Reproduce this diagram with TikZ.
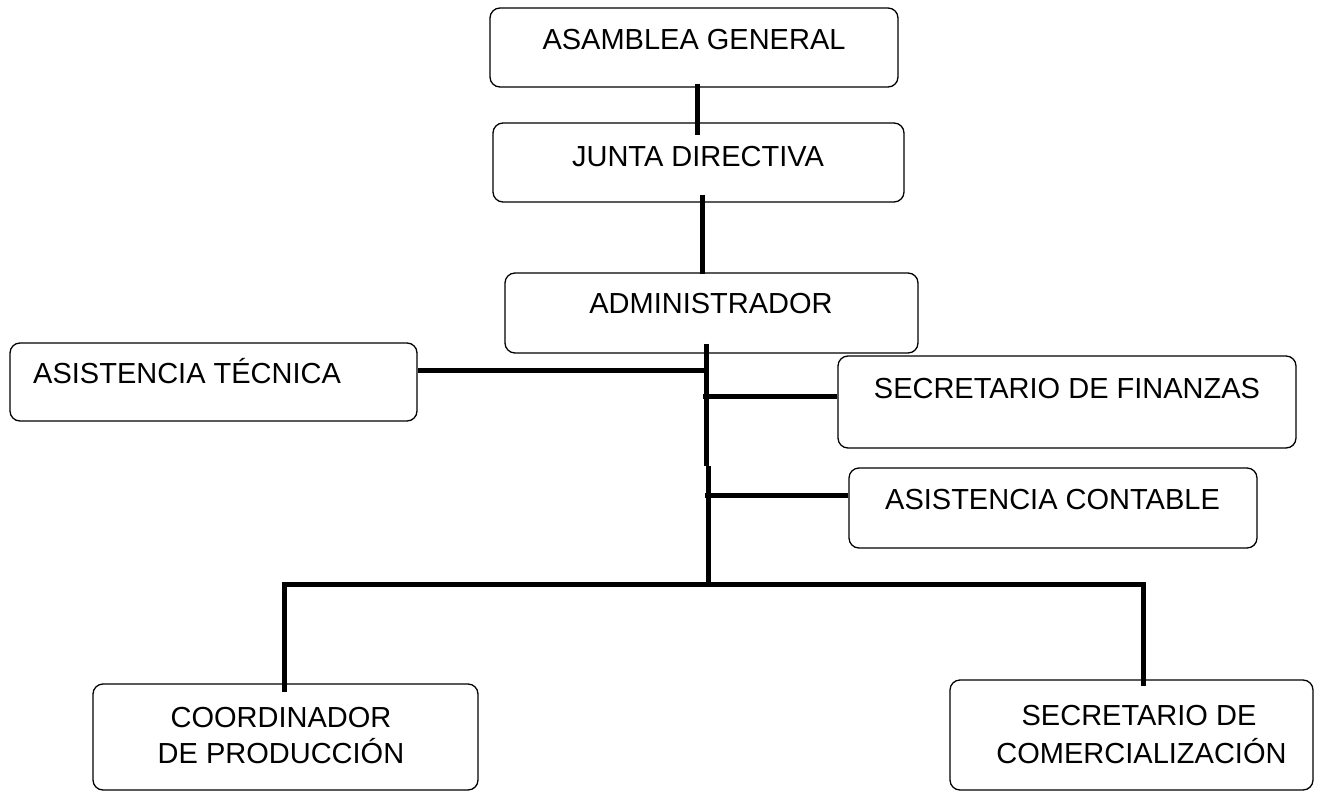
\documentclass[tikz,border=0pt]{standalone}
\usepackage{fontspec}
\setmainfont{Liberation Sans}
\usetikzlibrary{calc}
\tikzset{
  orgbox/.style={draw=black, line width=1.3pt, rounded corners=10pt, inner sep=0pt, fill=white},
  lbl/.style={inner sep=0pt, anchor=base, font=\fontsize{29}{34}\selectfont},
  conn/.style={draw=black, line width=5pt, line cap=butt, line join=miter}
}
\begin{document}
\begin{tikzpicture}[x=1pt,y=-1pt]
\useasboundingbox[fill=white] (0,0) rectangle (1317,792);
% connectors first (boxes drawn over them where they overlap)
% boxes
\node[orgbox, minimum width=408pt, minimum height=79pt] (a1) at (694,47.5) {};
\node[orgbox, minimum width=411pt, minimum height=79pt] (a2) at (698.5,162.5) {};
\node[orgbox, minimum width=413pt, minimum height=80pt] (a3) at (711.5,313) {};
\node[orgbox, minimum width=407pt, minimum height=78pt] (a4) at (213.5,382) {};
\node[orgbox, minimum width=458pt, minimum height=92pt] (a5) at (1067,402) {};
\node[orgbox, minimum width=408pt, minimum height=80pt] (a6) at (1053,508) {};
\node[orgbox, minimum width=385pt, minimum height=106pt] (a7) at (285.5,737) {};
\node[orgbox, minimum width=363pt, minimum height=110pt] (a8) at (1131.5,735) {};
% connectors
\draw[conn] ([xshift=3pt,yshift=4pt]a1.south) -- ++(0,51);
\draw[conn] ([xshift=3.5pt,yshift=8pt]a2.south) -- ++(0,79);
\draw[conn] ([xshift=-5.5pt,yshift=10pt]a3.south) -- ++(0,122);
\draw[conn] ([xshift=-3.5pt,yshift=-112pt]a3.south) -- ++(0,121);
\draw[conn] ([yshift=12pt]a4.east) -- ++(291.5,0);
\draw[conn] ([yshift=6pt]a5.west) -- ++(-134.5,0);
\draw[conn] ([yshift=13pt]a6.west) -- ++(-143.5,0);
\draw[conn] ([xshift=-1.5pt,yshift=-9pt]a7.north) -- ++(0,-108) -- ++(859,0) -- ++(0,102);
% labels
\node[lbl] (t1) at (694,49) {ASAMBLEA GENERAL};
\node[lbl] (t2) at (698,166) {JUNTA DIRECTIVA};
\node[lbl] (t3) at (711,313) {ADMINISTRADOR};
\node[lbl, anchor=base west] (t4) at (33,383) {ASISTENCIA TÉCNICA};
\node[lbl] (t5) at (1067,398) {SECRETARIO DE FINANZAS};
\node[lbl] (t6) at (1052.5,509) {ASISTENCIA CONTABLE};
\node[lbl] (t7a) at (281,727) {COORDINADOR};
\node[lbl] (t7b) at (281,763) {DE PRODUCCIÓN};
\node[lbl] (t8a) at (1139,725) {SECRETARIO DE};
\node[lbl] (t8b) at (1141.5,763) {COMERCIALIZACIÓN};
\end{tikzpicture}
\end{document}
